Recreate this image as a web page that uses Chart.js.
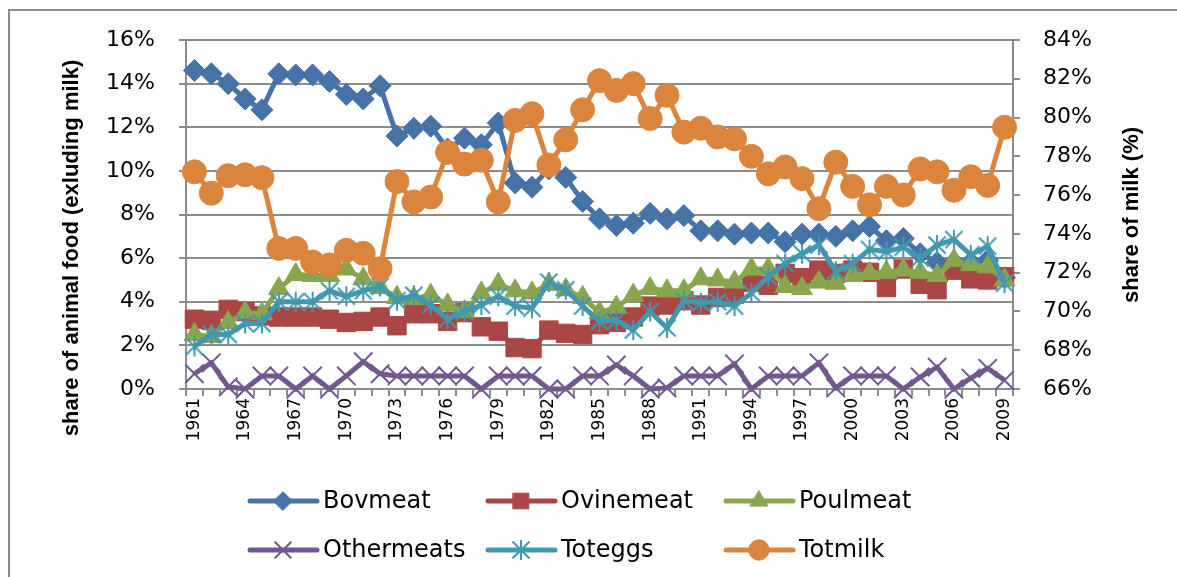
<!DOCTYPE html>
<html>
<head>
<meta charset="utf-8">
<script src="https://cdn.jsdelivr.net/npm/chart.js@4/dist/chart.umd.min.js"></script>
<style>
  html, body { margin: 0; padding: 0; background: #fff; overflow: hidden; }
  #wrap { position: relative; width: 1177px; height: 577px; }
  #frame { position: absolute; left: 8px; top: 9px; width: 1200px; height: 600px;
           border: 2px solid #8c8c8c; box-sizing: border-box; pointer-events: none; }
  canvas { position: absolute; left: 0; top: 0; }
</style>
</head>
<body>
<div id="wrap">
  <div id="frame"></div>
  <canvas id="myChart_Food" width="1177" height="577"></canvas>
</div>
<script>
var years = ["1961","1962","1963","1964","1965","1966","1967","1968","1969","1970",
  "1971","1972","1973","1974","1975","1976","1977","1978","1979","1980",
  "1981","1982","1983","1984","1985","1986","1987","1988","1989","1990",
  "1991","1992","1993","1994","1995","1996","1997","1998","1999","2000",
  "2001","2002","2003","2004","2005","2006","2007","2008","2009"];

// share of animal food excl. milk (%)
var bovmeat = [14.6,14.45,14.0,13.3,12.8,14.45,14.4,14.4,14.1,13.5,
  13.3,13.9,11.6,11.95,12.05,11.0,11.5,11.2,12.2,9.45,
  9.25,10.1,9.7,8.6,7.8,7.5,7.6,8.05,7.8,7.95,
  7.25,7.25,7.1,7.15,7.15,6.75,7.1,7.1,7.0,7.25,
  7.45,6.8,6.9,6.2,5.8,5.8,5.8,5.9,5.1];
var ovinemeat = [3.2,3.15,3.65,3.55,3.35,3.3,3.3,3.3,3.2,3.05,
  3.1,3.3,2.9,3.45,3.45,3.1,3.5,2.85,2.65,1.9,
  1.85,2.7,2.55,2.5,2.95,3.05,3.3,3.8,3.85,4.05,
  3.85,4.2,4.35,4.9,4.75,5.3,5.1,5.45,5.3,5.45,
  5.35,4.65,5.5,4.8,4.55,5.45,5.05,5.0,5.15];
var poulmeat = [2.5,2.4,3.05,3.5,3.45,4.6,5.25,5.2,5.2,5.5,
  5.05,4.65,4.2,4.15,4.3,3.85,3.55,4.4,4.8,4.5,
  4.4,4.8,4.55,4.2,3.5,3.75,4.3,4.6,4.5,4.5,
  5.05,5.0,4.9,5.5,5.5,4.7,4.6,4.9,4.85,5.2,
  5.3,5.35,5.45,5.35,5.2,5.9,5.7,5.6,5.0];
var othermeats = [0.7,1.2,0.1,0.0,0.6,0.6,0.0,0.6,0.0,0.6,
  1.25,0.7,0.6,0.6,0.6,0.6,0.6,0.0,0.6,0.6,
  0.6,0.0,0.0,0.6,0.6,1.1,0.6,0.0,0.05,0.6,
  0.6,0.6,1.15,0.0,0.6,0.6,0.6,1.2,0.05,0.6,
  0.6,0.6,0.0,0.55,1.0,0.0,0.5,0.95,0.4];
var toteggs = [1.95,2.5,2.5,3.0,3.0,4.0,4.0,4.0,4.5,4.25,
  4.5,4.7,4.05,4.3,3.85,3.2,3.55,3.85,4.25,3.8,
  3.7,4.9,4.55,3.8,3.1,3.15,2.7,3.55,2.8,4.05,
  3.95,4.0,3.8,4.4,5.15,5.75,6.2,6.6,5.4,5.75,
  6.4,6.3,6.5,6.0,6.6,6.85,6.15,6.55,4.85];
// share of milk (%), right axis
var totmilk = [77.2,76.1,77.0,77.05,76.9,73.25,73.25,72.55,72.4,73.15,
  73.0,72.2,76.7,75.65,75.9,78.2,77.6,77.8,75.65,79.85,
  80.2,77.55,78.85,80.4,81.9,81.4,81.75,79.95,81.15,79.25,
  79.45,79.0,78.9,78.0,77.1,77.45,76.85,75.3,77.7,76.45,
  75.5,76.45,76.0,77.35,77.2,76.25,76.95,76.5,79.5];

var leftTitle = "share of animal food (exluding milk)";
var rightTitle = "share of milk (%)";

var gridGray = "#8c8c8c";

// Excel-like asterisk marker: vertical bar plus an X
function asteriskMarker(color, size) {
  var c = document.createElement("canvas");
  c.width = size;
  c.height = size;
  var g = c.getContext("2d");
  var h = size / 2;
  var d = h * 0.78;
  g.strokeStyle = color;
  g.lineWidth = 2;
  g.beginPath();
  g.moveTo(h, 1); g.lineTo(h, size - 1);
  g.moveTo(h - d, h - d); g.lineTo(h + d, h + d);
  g.moveTo(h - d, h + d); g.lineTo(h + d, h - d);
  g.stroke();
  return c;
}

function makeSeries(label, data, color, style, radius, bw, axis, order) {
  return {
    label: label,
    data: data,
    yAxisID: axis,
    order: order,
    borderColor: color,
    backgroundColor: color,
    borderWidth: 5,
    tension: 0,
    pointStyle: style,
    pointRadius: radius,
    pointHoverRadius: radius,
    pointBackgroundColor: color,
    pointBorderColor: color,
    pointBorderWidth: bw,
    clip: false,
  };
}

var legendPlugin = {
  id: "gridLegend",
  afterDraw(chart) {
    var ctx = chart.ctx;
    var cols = [250, 488, 726];
    var rows = [501, 550];
    chart.data.datasets.forEach((ds, i) => {
      var x = cols[i % 3];
      var y = rows[Math.floor(i / 3)];
      ctx.save();
      ctx.strokeStyle = ds.borderColor;
      ctx.lineWidth = 5;
      ctx.lineCap = "round";
      ctx.beginPath();
      ctx.moveTo(x, y);
      ctx.lineTo(x + 67, y);
      ctx.stroke();
      ctx.fillStyle = ds.backgroundColor;
      ctx.lineWidth = ds.pointBorderWidth;
      if (Chart.helpers && Chart.helpers.drawPoint) {
        Chart.helpers.drawPoint(ctx, {
          pointStyle: ds.pointStyle,
          radius: ds.pointRadius * 0.85,
          rotation: 0,
          borderWidth: ds.pointBorderWidth,
        }, x + 33, y);
      }
      ctx.fillStyle = "#000";
      ctx.font = '24px "DejaVu Sans", sans-serif';
      ctx.textAlign = "left";
      ctx.textBaseline = "middle";
      ctx.fillText(ds.label, x + 73, y + 1);
      ctx.restore();
    });
  },
};

var titlePlugin = {
  id: "axisTitles",
  afterDraw(chart) {
    var ctx = chart.ctx;
    ctx.save();
    ctx.font = 'bold 22px "Liberation Sans", Arial, sans-serif';
    ctx.fillStyle = "#000";
    ctx.textAlign = "center";
    ctx.textBaseline = "middle";
    ctx.translate(72, 248);
    ctx.rotate(-Math.PI / 2);
    ctx.fillText(leftTitle, 0, 0);
    ctx.restore();

    ctx.save();
    ctx.font = 'bold 22px "Liberation Sans", Arial, sans-serif';
    ctx.fillStyle = "#000";
    ctx.textAlign = "center";
    ctx.textBaseline = "middle";
    ctx.translate(1132, 215);
    ctx.rotate(-Math.PI / 2);
    ctx.fillText(rightTitle, 0, 0);
    ctx.restore();
  },
};

var tickFont = { family: '"DejaVu Sans", sans-serif', size: 22 };

var chartFood = new Chart(document.getElementById("myChart_Food"), {
  type: "line",
  data: {
    labels: years,
    datasets: [
      makeSeries("Bovmeat", bovmeat, "#4572A7", "rectRot", 11, 1, "y", 6),
      makeSeries("Ovinemeat", ovinemeat, "#AA4643", "rect", 13, 1, "y", 5),
      makeSeries("Poulmeat", poulmeat, "#89A54E", "triangle", 12, 1, "y", 4),
      makeSeries("Othermeats", othermeats, "#71588F", "crossRot", 13, 2, "y", 3),
      makeSeries("Toteggs", toteggs, "#4198AF", asteriskMarker("#4198AF", 22), 11, 2, "y", 2),
      makeSeries("Totmilk", totmilk, "#DB843D", "circle", 12, 1, "y1", 1),
    ],
  },
  options: {
    responsive: false,
    animation: false,
    devicePixelRatio: 1,
    events: [],
    layout: { padding: { left: 100, right: 10, top: 40, bottom: 128 } },
    plugins: {
      legend: { display: false },
      tooltip: { enabled: false },
    },
    scales: {
      x: {
        type: "category",
        offset: true,
        grid: { display: true, drawOnChartArea: false, drawTicks: true, tickLength: 7,
                color: gridGray, lineWidth: 2, offset: true },
        border: { display: true, color: gridGray, width: 2 },
        ticks: {
          autoSkip: false, maxRotation: 90, minRotation: 90, padding: 2,
          color: "#000", font: { family: '"DejaVu Sans", sans-serif', size: 17 },
          callback: function (value, index) {
            return index % 3 === 0 ? this.getLabelForValue(value) : "";
          },
        },
        afterFit: (scale) => { scale.height = 60; },
      },
      y: {
        position: "left",
        min: 0, max: 16,
        grid: { color: gridGray, lineWidth: 2, drawTicks: true, tickLength: 7 },
        border: { display: true, color: gridGray, width: 2 },
        ticks: { stepSize: 2, padding: 24, color: "#000", font: tickFont,
                 callback: (v) => v + "%" },
        afterFit: (scale) => { scale.width = 86; },
      },
      y1: {
        position: "right",
        min: 66, max: 84,
        grid: { drawOnChartArea: false, color: gridGray, lineWidth: 2, drawTicks: true, tickLength: 7 },
        border: { display: true, color: gridGray, width: 2 },
        ticks: { stepSize: 2, padding: 23, color: "#000", font: tickFont,
                 callback: (v) => v + "%" },
        afterFit: (scale) => { scale.width = 154; },
      },
    },
  },
  plugins: [legendPlugin, titlePlugin],
});
</script>
</body>
</html>
